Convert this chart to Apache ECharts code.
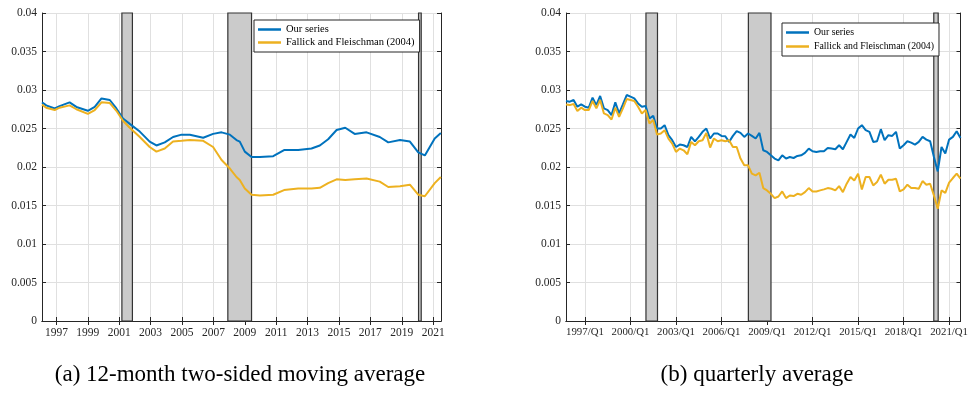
<!DOCTYPE html>
<html>
<head>
<meta charset="utf-8">
<script src="https://cdn.jsdelivr.net/npm/echarts@6/dist/echarts.min.js"></script>
<style>
html,body{margin:0;padding:0;background:#fff;}
#c{width:971px;height:399px;}
</style>
</head>
<body>
<div id="c"></div>
<script>
// ---------- data ----------
const seriesNames = ['Our series', 'Fallick and Fleischman (2004)'];
const leftTickYears = [1997, 1999, 2001, 2003, 2005, 2007, 2009, 2011, 2013, 2015, 2017, 2019, 2021];
const rightTickYears = [1997, 2000, 2003, 2006, 2009, 2012, 2015, 2018, 2021];
const rightTickLabels = ['1997/Q1', '2000/Q1', '2003/Q1', '2006/Q1', '2009/Q1', '2012/Q1', '2015/Q1', '2018/Q1', '2021/Q1'];

// (a) 12-month two-sided moving average (decimal years)
const leftX = [1996.08, 1996.35, 1996.89, 1997.20, 1997.84, 1998.27, 1999.00, 1999.44, 1999.87, 2000.40,
  2000.82, 2001.24, 2001.67, 2002.31, 2002.94, 2003.37, 2003.90, 2004.43, 2004.97, 2005.50,
  2006.35, 2006.98, 2007.52, 2008.05, 2008.47, 2008.68, 2009.00, 2009.43, 2009.96, 2010.81,
  2011.50, 2012.40, 2013.25, 2013.78, 2014.31, 2014.85, 2015.40, 2016.00, 2016.76, 2017.60,
  2018.14, 2018.89, 2019.52, 2020.05, 2020.47, 2021.10, 2021.49];
const leftOurs = [0.0284, 0.0280, 0.0276, 0.0279, 0.0284, 0.0278, 0.0273, 0.0278, 0.0289, 0.0287,
  0.0276, 0.0263, 0.0256, 0.0246, 0.0233, 0.0228, 0.0232, 0.0239, 0.0242, 0.0242,
  0.0238, 0.0243, 0.0245, 0.0242, 0.0235, 0.0233, 0.0220, 0.0213, 0.0213, 0.0214,
  0.0222, 0.0222, 0.0224, 0.0228, 0.0236, 0.0248, 0.0251, 0.0243, 0.0245, 0.0239,
  0.0232, 0.0235, 0.0233, 0.0219, 0.0215, 0.0237, 0.0244];
const leftFF = [0.0281, 0.0277, 0.0274, 0.0277, 0.0280, 0.0275, 0.0269, 0.0274, 0.0284, 0.0283,
  0.0273, 0.0260, 0.0251, 0.0239, 0.0226, 0.0220, 0.0224, 0.0233, 0.0234, 0.0235,
  0.0234, 0.0226, 0.0209, 0.0198, 0.0187, 0.0183, 0.0172, 0.0164, 0.0163, 0.0164,
  0.0170, 0.0172, 0.0172, 0.0173, 0.0179, 0.0184, 0.0183, 0.0184, 0.0185, 0.0181,
  0.0174, 0.0175, 0.0177, 0.0164, 0.0162, 0.0179, 0.0187];
const leftRecessions = [[2001.17, 2001.84], [2007.92, 2009.43], [2020.07, 2020.24]];

// (b) quarterly average, first quarter shown and one value per quarter
const rightStart = [1995, 4];
const rightOurs = [0.02857, 0.02848, 0.0287, 0.02783, 0.02813, 0.02783, 0.0277, 0.029, 0.02804, 0.02922,
  0.02761, 0.02739, 0.02674, 0.02839, 0.02696, 0.02813, 0.02935, 0.02913, 0.02891, 0.02826,
  0.02783, 0.02791, 0.0263, 0.02665, 0.025, 0.025, 0.02543, 0.02413, 0.02348, 0.0226,
  0.02291, 0.02282, 0.0226, 0.02391, 0.02334, 0.02391,
  0.02457, 0.025, 0.0237, 0.02435, 0.02435, 0.02404, 0.024, 0.02326, 0.02404, 0.02465,
  0.02443, 0.02391, 0.02435, 0.02404, 0.0237, 0.02443, 0.02217, 0.02196, 0.02152, 0.02109,
  0.02087, 0.02152, 0.02109, 0.0213, 0.02117, 0.02143, 0.02152, 0.02183, 0.02239, 0.02204,
  0.02196, 0.02204, 0.02204, 0.02248,
  0.02239, 0.0223, 0.02283, 0.0223, 0.02326, 0.02422, 0.02378, 0.025, 0.02543, 0.02478,
  0.02457, 0.02326, 0.02334, 0.02491, 0.02348, 0.02413, 0.02404, 0.02457, 0.02239, 0.02283,
  0.02334, 0.02317, 0.02291, 0.02326, 0.02391, 0.02356, 0.02334, 0.0213, 0.01943, 0.0226,
  0.02174, 0.02356, 0.02391, 0.02465, 0.02378];
const rightFF = [0.02813, 0.02804, 0.02817, 0.02726, 0.0277, 0.02739, 0.02739, 0.02857, 0.02761, 0.0287,
  0.02696, 0.02674, 0.02617, 0.0277, 0.02652, 0.02761, 0.02883, 0.0287, 0.02857, 0.02783,
  0.02696, 0.02739, 0.02565, 0.02609, 0.02422, 0.02435, 0.02478, 0.02369, 0.02304, 0.02196,
  0.02239, 0.02217, 0.02165, 0.02326, 0.02282, 0.02334,
  0.02348, 0.02443, 0.02252, 0.0237, 0.02334, 0.02348, 0.02334, 0.02348, 0.0226, 0.0226,
  0.02109, 0.02022, 0.02022, 0.01913, 0.01891, 0.01926, 0.01726, 0.01696, 0.01652, 0.01596,
  0.01617, 0.01683, 0.01596, 0.0163, 0.01622, 0.01652, 0.01639, 0.01674, 0.01726, 0.01683,
  0.01683, 0.01696, 0.01709, 0.01726,
  0.01717, 0.01696, 0.01752, 0.01674, 0.01783, 0.0187, 0.01826, 0.01913, 0.01709, 0.0187,
  0.0187, 0.01761, 0.01804, 0.019, 0.01783, 0.01835, 0.01835, 0.01848, 0.01683, 0.01709,
  0.0177, 0.01726, 0.01726, 0.01717, 0.01817, 0.0177, 0.01783, 0.0163, 0.01457, 0.01696,
  0.01665, 0.01796, 0.01857, 0.01913, 0.01848];
const rightRecessions = [[2001.02, 2001.78], [2007.77, 2009.26], [2019.99, 2020.28]];

const captions = ['(a) 12-month two-sided moving average', '(b) quarterly average'];

// ---------- build ----------
// quarter positions (axis units: year + (quarter-1)/4)
const rightX = rightOurs.map((_, i) => {
  const q0 = rightStart[0] * 4 + (rightStart[1] - 1) + i;
  return Math.floor(q0 / 4) + (q0 % 4) / 4;
});
const pair = (xs, ys) => xs.map((x, i) => [x, ys[i]]);

const BLUE = '#0072BD', YEL = '#EDB120', AX = '#262626';
const FONT = 'Liberation Serif';

function xAxes(gridIndex, min, max, ticks, labels, fs) {
  const base = {
    type: 'value', gridIndex, min, max,
    axisLine: { show: true, lineStyle: { color: AX, width: 1 } },
    axisTick: { show: true, inside: true, length: 4, customValues: ticks, lineStyle: { color: AX } },
  };
  return [
    Object.assign({}, base, {
      position: 'bottom',
      axisLabel: { show: true, customValues: ticks, margin: 6, color: AX, fontFamily: FONT, fontSize: fs,
        formatter: v => labels ? labels[ticks.indexOf(Math.round(v))] : String(Math.round(v)) },
      splitLine: { show: true, lineStyle: { color: '#e0e0e0', width: 1 } }
    }),
    Object.assign({}, base, {
      position: 'top',
      axisLabel: { show: false },
      splitLine: { show: false }
    })
  ];
}
function yAxes(gridIndex) {
  const base = {
    type: 'value', gridIndex, min: 0, max: 0.04, interval: 0.005,
    axisLine: { show: true, lineStyle: { color: AX, width: 1 } },
    axisTick: { show: true, inside: true, length: 4, lineStyle: { color: AX } },
  };
  return [
    Object.assign({}, base, {
      position: 'left',
      axisLabel: { show: true, margin: 5, color: AX, fontFamily: FONT, fontSize: 11.5,
        formatter: v => String(+v.toFixed(3)) },
      splitLine: { show: true, lineStyle: { color: '#e0e0e0', width: 1 } }
    }),
    Object.assign({}, base, {
      position: 'right',
      axisLabel: { show: false },
      splitLine: { show: false }
    })
  ];
}

function recSeries(xi, yi, recs) {
  return {
    name: 'recession', type: 'line', xAxisIndex: xi, yAxisIndex: yi, data: [], z: 1,
    silent: true, symbol: 'none',
    markArea: {
      silent: true,
      itemStyle: { color: '#cbcbcb', borderColor: '#333333', borderWidth: 1.2 },
      data: recs.map(r => [{ xAxis: r[0] }, { xAxis: r[1] }])
    }
  };
}
function lineSeries(name, xi, yi, data, color) {
  return {
    name, type: 'line', xAxisIndex: xi, yAxisIndex: yi, data, z: 3,
    symbol: 'none', showSymbol: false,
    lineStyle: { color, width: 2 }, itemStyle: { color }
  };
}
function legend(left, top, fs, gap, lh) {
  return {
    orient: 'vertical', left, top,
    data: seriesNames.map(n => ({ name: n, icon: 'rect' })),
    itemWidth: 23, itemHeight: 2.5, itemGap: gap,
    padding: [4, 5, 4, 4],
    backgroundColor: '#ffffff', borderColor: AX, borderWidth: 1,
    textStyle: { fontFamily: FONT, fontSize: fs, color: '#000', lineHeight: lh },
    selectedMode: false
  };
}

const chart = echarts.init(document.getElementById('c'), null, { renderer: 'canvas' });
chart.setOption({
  animation: false,
  backgroundColor: '#ffffff',
  grid: [
    { left: 42, top: 13, width: 399, height: 308 },
    { left: 566, top: 13, width: 398, height: 308 }
  ],
  xAxis: [].concat(
    xAxes(0, 1996.08, 2021.5, leftTickYears, null, 11.5),
    xAxes(1, rightX[0], rightX[rightX.length - 1], rightTickYears, rightTickLabels, 10.8)
  ),
  yAxis: [].concat(yAxes(0), yAxes(1)),
  legend: [legend(254, 20, 10.5, 2, 11), legend(782, 23, 9.8, 3, 11)],
  series: [
    recSeries(0, 0, leftRecessions),
    lineSeries(seriesNames[0], 0, 0, pair(leftX, leftOurs), BLUE),
    lineSeries(seriesNames[1], 0, 0, pair(leftX, leftFF), YEL),
    recSeries(2, 2, rightRecessions),
    lineSeries(seriesNames[0], 2, 2, pair(rightX, rightOurs), BLUE),
    lineSeries(seriesNames[1], 2, 2, pair(rightX, rightFF), YEL)
  ],
  graphic: [
    { type: 'text', x: 240, y: 375, style: { text: captions[0], font: '23px "Liberation Serif"', fill: '#000', textAlign: 'center', textVerticalAlign: 'middle' } },
    { type: 'text', x: 757, y: 375, style: { text: captions[1], font: '23px "Liberation Serif"', fill: '#000', textAlign: 'center', textVerticalAlign: 'middle' } }
  ]
});
</script>
</body>
</html>
